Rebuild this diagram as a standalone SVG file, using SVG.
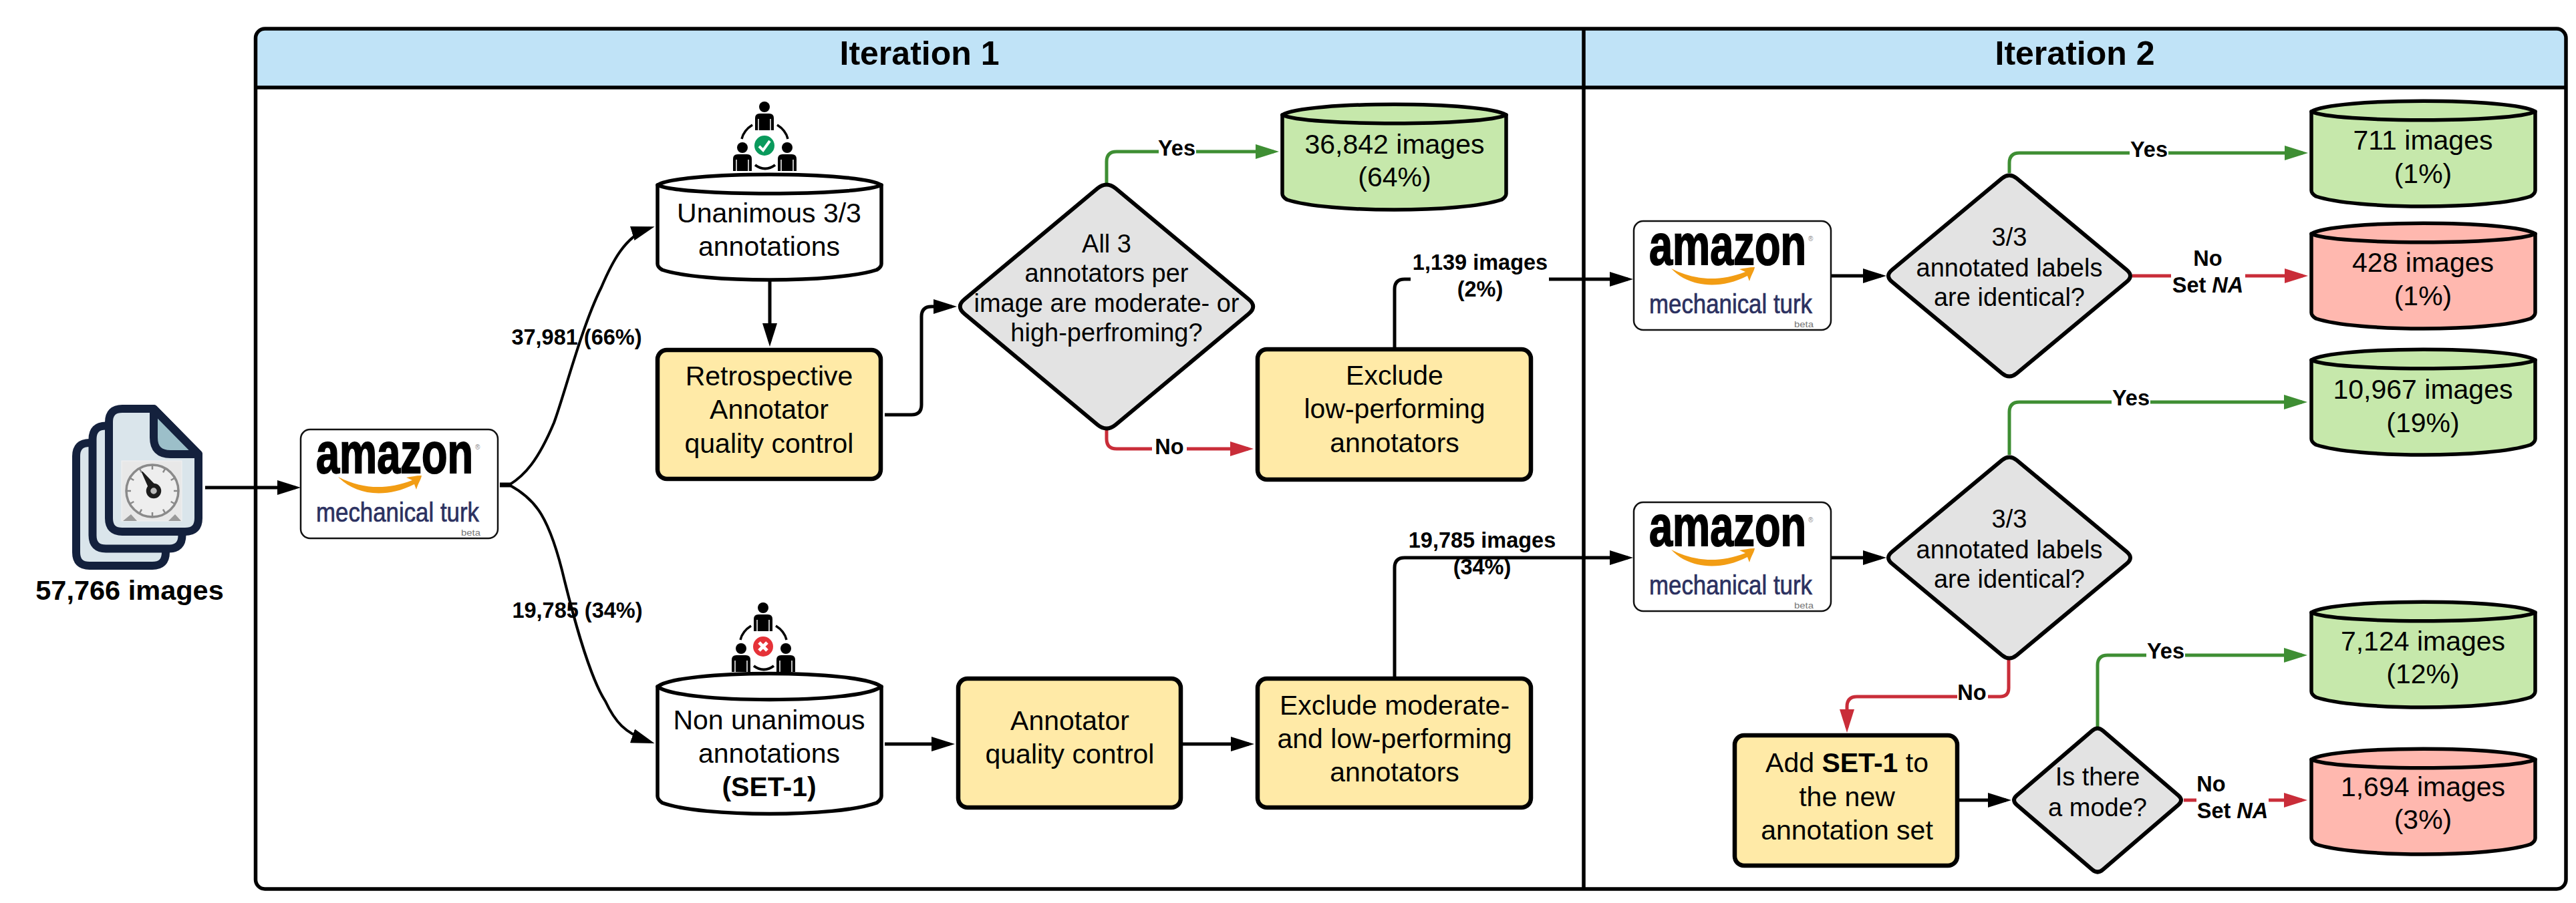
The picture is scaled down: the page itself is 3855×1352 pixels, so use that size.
<svg xmlns="http://www.w3.org/2000/svg" xmlns:xlink="http://www.w3.org/1999/xlink" width="3855" height="1352" viewBox="0 0 3855 1352">
<style>
text{font-family:"Liberation Sans",Arial,sans-serif;fill:#000;text-anchor:middle}
.n{font-size:41px}
.d{font-size:38px}
.l{font-size:32.500px;font-weight:700}
.h{font-size:50px;font-weight:700}
.b{font-weight:700}
.s{stroke:#000;stroke-width:5.500;stroke-linejoin:round}
.box{fill:#ffeaa7;stroke:#000;stroke-width:6.500}
.dia{fill:#e3e3e3;stroke:#000;stroke-width:6}
.grn{fill:#c6e8ab}
.red{fill:#ffb8af}
.wht{fill:#fff}
.c{fill:none;stroke:#000;stroke-width:5}
.thin{stroke-width:4}
.cg{fill:none;stroke:#3e8e33;stroke-width:5}
.cr{fill:none;stroke:#c92d39;stroke-width:5}
.mask{fill:#fff;stroke:none}
.logo{fill:#fff;stroke:#111;stroke-width:2.500}
.amz{font-size:85px;font-weight:700;text-anchor:start;stroke:#000;stroke-width:2}
.mt{font-size:41px;text-anchor:start;fill:#2b3060;stroke:#2b3060;stroke-width:.7}
.bt{font-size:13px;text-anchor:start;fill:#777}
.reg{font-size:10px;text-anchor:start;fill:#888}
</style>
<defs>
<marker id="a-k" markerUnits="userSpaceOnUse" markerWidth="35" markerHeight="22" refX="27" refY="11" orient="auto"><path d="M0 0L35 11L0 22Z" fill="#000"/></marker>
<marker id="a-g" markerUnits="userSpaceOnUse" markerWidth="35" markerHeight="22" refX="27" refY="11" orient="auto"><path d="M0 0L35 11L0 22Z" fill="#3e8e33"/></marker>
<marker id="a-r" markerUnits="userSpaceOnUse" markerWidth="35" markerHeight="22" refX="27" refY="11" orient="auto"><path d="M0 0L35 11L0 22Z" fill="#c92d39"/></marker>
<g id="cyl">
<path class="s" d="M3 19V137Q3 142 10 146C70 166 271 166 331 146Q338 142 338 137V19Z"/>
<path class="s" d="M3 19C36 -2 305 -2 338 19C305 36 36 36 3 19Z"/>
</g>
<g id="person">
<ellipse cx="0" cy="0" rx="8" ry="8"/>
<path d="M-14 35V17Q-14 10 -7 10H7Q14 10 14 17V35Z"/>
<path d="M-9 18V35M9 18V35" fill="none" stroke="#fff" stroke-width="1.500"/>
</g>
<g id="team">
<use href="#person" x="1144" y="160"/>
<use href="#person" x="1111" y="221"/>
<use href="#person" x="1178" y="221"/>
<path d="M1110 208Q1113 195 1126 187M1179 208Q1176 195 1163 187" fill="none" stroke="#000" stroke-width="3.500"/>
<path d="M1130 247Q1145 258 1160 247" fill="none" stroke="#000" stroke-width="4"/>
</g>
<g id="doc">
<path d="M163 632Q163 612 183 612H230L297 680V776Q297 796 277 796H183Q163 796 163 776Z" fill="#dae5eb" stroke="#14213d" stroke-width="12" stroke-linejoin="round"/>
<path d="M230 612V655Q230 680 255 680H297Z" fill="#9cbfc9" stroke="#14213d" stroke-width="12" stroke-linejoin="round"/>
</g>
<g id="logo-art">
<rect class="logo" x="0" y="0" width="295" height="163" rx="14"/>
<path d="M56 71C80 97 125 105 170 82L173 90C176 80 180 75 181 69C172 69 165 71 158 72L167 76C125 92 90 88 56 71Z" fill="#f29d14"/>
</g>
</defs>

<g id="frame">
<path d="M382.500 131V57Q382.500 43 397 43H3826Q3840 43 3840 57V131Z" fill="#c0e3f7"/>
<rect x="382.500" y="43" width="3457.500" height="1288" rx="14" fill="none" stroke="#000" stroke-width="5.500"/>
<path d="M382.500 131H3840M2370 43V1331" fill="none" stroke="#000" stroke-width="5.500"/>
<text class="h" x="1376" y="97">Iteration 1</text>
<text class="h" x="3105" y="97">Iteration 2</text>
</g>

<g id="connectors">
<path class="c" d="M307 730H442" marker-end="url(#a-k)"/>
<path d="M748 726H764" fill="none" stroke="#000" stroke-width="7"/>
<path class="c thin" d="M762 726C785 712 805 690 829 633C845 590 870 490 900 430C915 395 935 353 972 341.500" marker-end="url(#a-k)"/>
<path class="c thin" d="M762 726C775 733 795 745 810 770C822 790 835 827 845 870C855 910 880 1010 906 1050C920 1080 935 1098 972 1110.500" marker-end="url(#a-k)"/>
<path class="c" d="M1152 420V511" marker-end="url(#a-k)"/>
<path class="c" d="M1324 621H1364Q1379 621 1379 606V474Q1379 459 1394 459H1424" marker-end="url(#a-k)"/>
<path class="cg" d="M1656 274V242Q1656 227 1671 227H1906" marker-end="url(#a-g)"/>
<rect class="mask" x="1734" y="208" width="56" height="34"/>
<path class="cr" d="M1656 644V657Q1656 672 1671 672H1868" marker-end="url(#a-r)"/>
<rect class="mask" x="1724" y="654" width="52" height="32"/>
<path class="c" d="M2087 520V433Q2087 418 2102 418H2436" marker-end="url(#a-k)"/>
<rect class="mask" x="2111" y="376" width="207" height="74"/>
<path class="c" d="M1324 1114H1421" marker-end="url(#a-k)"/>
<path class="c" d="M1770 1114H1869" marker-end="url(#a-k)"/>
<path class="c" d="M2087 1013V850Q2087 835 2102 835H2436" marker-end="url(#a-k)"/>
<path class="c" d="M2740 413H2815" marker-end="url(#a-k)"/>
<path class="c" d="M2740 835H2815" marker-end="url(#a-k)"/>
<path class="cg" d="M3007 259V244Q3007 229 3022 229H3446" marker-end="url(#a-g)"/>
<rect class="mask" x="3187" y="212" width="58" height="30"/>
<path class="cr" d="M3191 413H3446" marker-end="url(#a-r)"/>
<rect class="mask" x="3249" y="375" width="111" height="72"/>
<path class="cg" d="M3007 681V617Q3007 602 3022 602H3445" marker-end="url(#a-g)"/>
<rect class="mask" x="3160" y="584" width="58" height="30"/>
<path class="cr" d="M3006 988V1030Q3006 1043 2993 1043H2779Q2764 1043 2764 1058V1089" marker-end="url(#a-r)"/>
<rect class="mask" x="2929" y="1024" width="46" height="30"/>
<path class="c" d="M2932 1198H3002" marker-end="url(#a-k)"/>
<path class="cg" d="M3139 1088V996Q3139 981 3154 981H3445" marker-end="url(#a-g)"/>
<rect class="mask" x="3212" y="964" width="58" height="30"/>
<path class="cr" d="M3268 1198H3445" marker-end="url(#a-r)"/>
<rect class="mask" x="3287" y="1160" width="108" height="72"/>
</g>

<g id="labels">
<text class="l" x="1761" y="233">Yes</text>
<text class="l" x="1750" y="680">No</text>
<text class="l" x="863" y="516">37,981 (66%)</text>
<text class="l" x="864" y="925">19,785 (34%)</text>
<text class="l" x="2215" y="404">1,139 images</text>
<text class="l" x="2215" y="444">(2%)</text>
<text class="l" x="2218" y="820">19,785 images</text>
<text class="l" x="2218" y="860">(34%)</text>
<text class="l" x="3216" y="235">Yes</text>
<text class="l" x="3304" y="398">No</text>
<text class="l" x="3304" y="438">Set <tspan font-style="italic">NA</tspan></text>
<text class="l" x="3189" y="607">Yes</text>
<text class="l" x="2951" y="1048">No</text>
<text class="l" x="3241" y="986">Yes</text>
<text class="l" x="3309" y="1185">No</text>
<text class="l" x="3341" y="1225">Set <tspan font-style="italic">NA</tspan></text>
</g>

<g id="source-images">
<use href="#doc" x="-49" y="51"/>
<use href="#doc" x="-24.500" y="25.500"/>
<use href="#doc"/>
<rect x="182" y="690" width="90" height="90" fill="#e8e8e8" stroke="#f2f2f2" stroke-width="1"/>
<circle cx="228" cy="735" r="39" fill="#eeeeee" stroke="#8a8a8a" stroke-width="3.500"/>
<path d="M228 696V703M267 735H260M228 774V767M189 735H196M247.500 701.200L244 707.300M261.800 715.500L255.700 719M261.800 754.500L255.700 751M247.500 768.800L244 762.700M208.500 768.800L212 762.700M194.200 754.500L200.300 751M194.200 715.500L200.300 719M208.500 701.200L212 707.300" stroke="#8a8a8a" stroke-width="2.500" fill="none"/>
<path d="M184 780L196 770L205 780ZM252 780L262 770L271 780Z" fill="#999"/>
<path d="M213 707L233 728L224 732Z" fill="#1c1c1c" stroke="#1c1c1c" stroke-width="2" stroke-linejoin="round"/>
<circle cx="230" cy="735" r="8" fill="#bbb" stroke="#1c1c1c" stroke-width="6.500"/>
<text class="b" font-size="41.500" x="194" y="898">57,766 images</text>
</g>

<g id="mturk-1" transform="translate(450 643)">
<use href="#logo-art"/>
<text class="amz" x="23" y="65" textLength="235" lengthAdjust="spacingAndGlyphs">amazon</text>
<text class="reg" x="261" y="30">®</text>
<text class="mt" x="23" y="138" textLength="244" lengthAdjust="spacingAndGlyphs">mechanical turk</text>
<text class="bt" x="240" y="159" textLength="29" lengthAdjust="spacingAndGlyphs">beta</text>
</g>
<g id="mturk-2" transform="translate(2445 331)">
<use href="#logo-art"/>
<text class="amz" x="23" y="65" textLength="235" lengthAdjust="spacingAndGlyphs">amazon</text>
<text class="reg" x="261" y="30">®</text>
<text class="mt" x="23" y="138" textLength="244" lengthAdjust="spacingAndGlyphs">mechanical turk</text>
<text class="bt" x="240" y="159" textLength="29" lengthAdjust="spacingAndGlyphs">beta</text>
</g>
<g id="mturk-3" transform="translate(2445 752)">
<use href="#logo-art"/>
<text class="amz" x="23" y="65" textLength="235" lengthAdjust="spacingAndGlyphs">amazon</text>
<text class="reg" x="261" y="30">®</text>
<text class="mt" x="23" y="138" textLength="244" lengthAdjust="spacingAndGlyphs">mechanical turk</text>
<text class="bt" x="240" y="159" textLength="29" lengthAdjust="spacingAndGlyphs">beta</text>
</g>

<g id="team-agree">
<use href="#team"/>
<circle cx="1144" cy="218" r="15" fill="#0a9a5c"/>
<path d="M1136 219L1142 225L1152 211" fill="none" stroke="#fff" stroke-width="4"/>
</g>
<g id="team-disagree" transform="translate(-2 750)">
<use href="#team"/>
<circle cx="1144" cy="218" r="15" fill="#e53238"/>
<path d="M1138 212L1150 224M1150 212L1138 224" fill="none" stroke="#fff" stroke-width="5"/>
</g>

<g id="unanimous" class="wht" transform="translate(981 258)">
<use href="#cyl"/>
<text class="n" x="170" y="75">Unanimous 3/3</text>
<text class="n" x="170" y="125">annotations</text>
</g>
<g id="non-unanimous" class="wht" transform="translate(981 1006)">
<path class="s" d="M3 22V186Q3 191 10 196C70 218 271 218 331 196Q338 191 338 186V22Z"/>
<path class="s" d="M3 22C36 -4 305 -4 338 22C305 48 36 48 3 22Z"/>
<text class="n" x="170" y="86">Non unanimous</text>
<text class="n" x="170" y="136">annotations</text>
<text class="n b" x="170" y="186">(SET-1)</text>
</g>

<g id="retrospective">
<rect class="box" x="984" y="524" width="334" height="193" rx="14"/>
<text class="n" x="1151" y="577">Retrospective</text>
<text class="n" x="1151" y="627">Annotator</text>
<text class="n" x="1151" y="678">quality control</text>
</g>
<g id="annotator-qc">
<rect class="box" x="1434" y="1016" width="333" height="193" rx="14"/>
<text class="n" x="1601" y="1093">Annotator</text>
<text class="n" x="1601" y="1143">quality control</text>
</g>
<g id="exclude-low">
<rect class="box" x="1882" y="523" width="409" height="195" rx="14"/>
<text class="n" x="2087" y="576">Exclude</text>
<text class="n" x="2087" y="626">low-performing</text>
<text class="n" x="2087" y="677">annotators</text>
</g>
<g id="exclude-moderate">
<rect class="box" x="1882" y="1016" width="409" height="193" rx="14"/>
<text class="n" x="2087" y="1070">Exclude moderate-</text>
<text class="n" x="2087" y="1120">and low-performing</text>
<text class="n" x="2087" y="1170">annotators</text>
</g>
<g id="add-set1">
<rect class="box" x="2596" y="1101" width="333" height="195" rx="14"/>
<text class="n" x="2764" y="1156">Add <tspan class="b">SET-1</tspan> to</text>
<text class="n" x="2764" y="1207">the new</text>
<text class="n" x="2764" y="1257">annotation set</text>
</g>

<g id="decision-performers">
<path class="dia" d="M1642.500 282Q1656 271 1669.500 282L1868.500 448Q1882 459 1868.500 470L1669.500 636Q1656 647 1642.500 636L1443.500 470Q1430 459 1443.500 448Z"/>
<text class="d" x="1656" y="378">All 3</text>
<text class="d" x="1656" y="422">annotators per</text>
<text class="d" x="1656" y="467">image are moderate- or</text>
<text class="d" x="1656" y="511">high-perfroming?</text>
</g>
<g id="decision-identical-1">
<path class="dia" d="M2996 267Q3007 258 3018 267L3182.500 404Q3193.500 413 3182.500 422L3018 559Q3007 568 2996 559L2831.500 422Q2820.500 413 2831.500 404Z"/>
<text class="d" x="3007" y="368">3/3</text>
<text class="d" x="3007" y="414">annotated labels</text>
<text class="d" x="3007" y="458">are identical?</text>
</g>
<g id="decision-identical-2" transform="translate(0 422)">
<path class="dia" d="M2996 267Q3007 258 3018 267L3182.500 404Q3193.500 413 3182.500 422L3018 559Q3007 568 2996 559L2831.500 422Q2820.500 413 2831.500 404Z"/>
<text class="d" x="3007" y="368">3/3</text>
<text class="d" x="3007" y="414">annotated labels</text>
<text class="d" x="3007" y="458">are identical?</text>
</g>
<g id="decision-mode">
<path class="dia" d="M3131 1094Q3139 1087 3147 1094L3260 1191Q3268 1198 3260 1205L3147 1302Q3139 1309 3131 1302L3018 1205Q3010 1198 3018 1191Z"/>
<text class="d" x="3139" y="1176">Is there</text>
<text class="d" x="3139" y="1222">a mode?</text>
</g>

<g id="result-36842" class="grn" transform="translate(1916 153)">
<use href="#cyl"/>
<text class="n" x="171" y="77">36,842 images</text>
<text class="n" x="171" y="126">(64%)</text>
</g>
<g id="result-711" class="grn" transform="translate(3456 148)">
<use href="#cyl"/>
<text class="n" x="170" y="76">711 images</text>
<text class="n" x="170" y="126">(1%)</text>
</g>
<g id="result-428" class="red" transform="translate(3456 331)">
<use href="#cyl"/>
<text class="n" x="170" y="76">428 images</text>
<text class="n" x="170" y="126">(1%)</text>
</g>
<g id="result-10967" class="grn" transform="translate(3456 520)">
<use href="#cyl"/>
<text class="n" x="170" y="77">10,967 images</text>
<text class="n" x="170" y="127">(19%)</text>
</g>
<g id="result-7124" class="grn" transform="translate(3456 898)">
<use href="#cyl"/>
<text class="n" x="170" y="76">7,124 images</text>
<text class="n" x="170" y="125">(12%)</text>
</g>
<g id="result-1694" class="red" transform="translate(3456 1118)">
<use href="#cyl"/>
<text class="n" x="170" y="74">1,694 images</text>
<text class="n" x="170" y="123">(3%)</text>
</g>
</svg>
